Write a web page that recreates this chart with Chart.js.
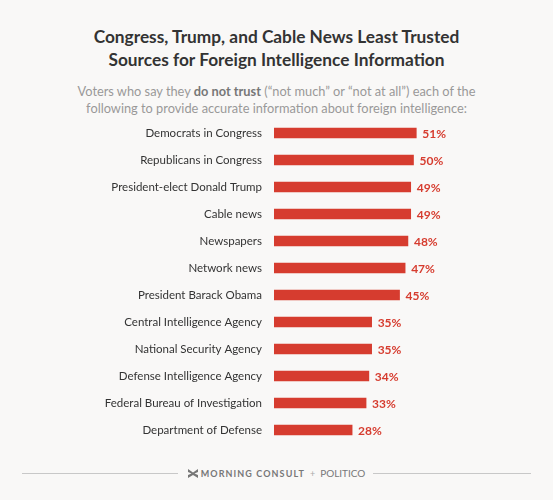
<!DOCTYPE html>
<html>
<head>
<meta charset="utf-8">
<script src="https://cdn.jsdelivr.net/npm/chart.js@4"></script>
<style>
  html, body { margin: 0; padding: 0; background: #f9f8f7; }
  body { width: 553px; height: 500px; position: relative; overflow: hidden; font-family: Lato, sans-serif; }
  .title { position: absolute; top: 25px; left: 0; width: 553px; text-align: center; font-weight: 700; font-size: 17.3px; line-height: 23px; color: #333; }
  .sub { position: absolute; top: 83px; left: 0; width: 553px; text-align: center; font-size: 12.8px; line-height: 17px; color: #999; }
  .sub b { color: #777; }
  #wrap { position: absolute; left: 0; top: 110px; width: 553px; height: 345px; }
  .foot { position: absolute; top: 465px; left: 0; width: 553px; height: 16px; }
  .foot .line { position: absolute; top: 8px; height: 1px; background: #c8c8c8; }
  .foot .txt { position: absolute; left: 0; width: 553px; top: 0; text-align: center; font-size: 9px; color: #777; line-height: 16px; }
  .mc { font-weight: 700; letter-spacing: 1.1px; }
  .plus { color: #aaa; padding: 0 5px; }
  .pol { font-size: 10px; }
  svg { vertical-align: -1px; margin-right: 3px; }
</style>
</head>
<body>
<div class="title">Congress, Trump, and Cable News Least Trusted<br>Sources for Foreign Intelligence Information</div>
<div class="sub">Voters who say they <b>do not trust</b> (“not much” or “not at all”) each of the<br>following to provide accurate information about foreign intelligence:</div>
<div id="wrap"><canvas id="chart"></canvas></div>
<div class="foot">
  <div class="line" style="left:22px;width:156px"></div>
  <div class="line" style="left:373px;width:158px"></div>
  <div class="txt"><svg width="10" height="9" viewBox="0 0 10 9"><path d="M0 0 L5 3.5 L10 0 L10 3 L6.5 4.5 L10 6 L10 9 L5 6 L0 9 L0 6 L3.5 4.5 L0 3 Z" fill="#777"/></svg><span class="mc">MORNING CONSULT</span><span class="plus">+</span><span class="pol">POLITICO</span></div>
</div>
<script>
const sources = [
    'Democrats in Congress',
    'Republicans in Congress',
    'President-elect Donald Trump',
    'Cable news',
    'Newspapers',
    'Network news',
    'President Barack Obama',
    'Central Intelligence Agency',
    'National Security Agency',
    'Defense Intelligence Agency',
    'Federal Bureau of Investigation',
    'Department of Defense'
];
const doNotTrust = [51, 50, 49, 49, 48, 47, 45, 35, 35, 34, 33, 28];

// value labels at the end of each bar
const valueLabels = {
    id: 'valueLabels',
    afterDatasetsDraw(chart) {
        const ctx = chart.ctx;
        const meta = chart.getDatasetMeta(0);
        ctx.save();
        ctx.font = 'bold 12px Lato, sans-serif';
        ctx.fillStyle = '#d63c2f';
        ctx.textBaseline = 'middle';
        meta.data.forEach((bar, i) => {
            ctx.fillText(doNotTrust[i] + '%', bar.x + 6, bar.y + 1);
        });
        ctx.restore();
    }
};

const ctx = document.getElementById('chart').getContext('2d');
new Chart(ctx, {
    type: 'bar',
    data: {
        labels: sources,
        datasets: [{
            data: doNotTrust,
            backgroundColor: '#d63c2f',
            barThickness: 10,
            borderWidth: 0
        }]
    },
    options: {
        indexAxis: 'y',
        responsive: true,
        maintainAspectRatio: false,
        animation: false,
        layout: {padding: {top: 9.5, bottom: 11.5, left: 0, right: 0}},
        plugins: {
            legend: {display: false},
            tooltip: {enabled: false}
        },
        scales: {
            x: {
                display: false,
                min: 0,
                max: 100
            },
            y: {
                grid: {display: false, drawTicks: false},
                border: {display: false},
                ticks: {
                    color: '#333',
                    padding: 12,
                    font: {family: 'Lato, sans-serif', size: 11.5}
                },
                afterFit(scale) {
                    scale.width = 274;
                    scale.paddingTop = 0;
                    scale.paddingBottom = 0;
                }
            }
        }
    },
    plugins: [valueLabels]
});
</script>
</body>
</html>
